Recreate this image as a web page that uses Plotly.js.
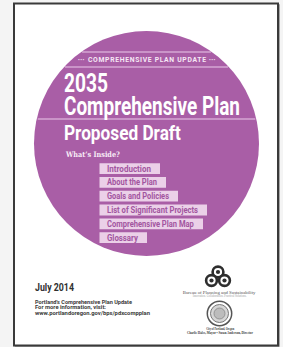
<!DOCTYPE html>
<html><head><meta charset="utf-8">
<script src="https://cdn.plot.ly/plotly-3.0.1.min.js"></script>
<style>html,body{margin:0;padding:0;background:#f4f4f4;}#c{width:283px;height:347px;}</style>
</head><body><div id="c"></div>
<script>
// ---- content ----
var seriesLabel = "COMPREHENSIVE PLAN UPDATE";
var titleYear = "2035";
var titleMain = "Comprehensive Plan";
var subtitle = "Proposed Draft";
var insideLabel = "What\u2019s Inside?";
var menuItems = ["Introduction", "About the Plan", "Goals and Policies", "List of Significant Projects", "Comprehensive Plan Map", "Glossary"];
var dateLabel = "July 2014";
var infoLines = ["Portland\u2019s Comprehensive Plan Update", "For more information, visit:", "www.portlandoregon.gov/bps/pdxcompplan"];
var bureauLines = ["Bureau of Planning and Sustainability", "Innovation. Collaboration. Practical Solutions."];
var cityLines = ["City of Portland, Oregon", "Charlie Hales, Mayor \u2022 Susan Anderson, Director"];

// ---- styling / layout (pixel geometry of the cover) ----
var W = 283, H = 347;
var purple = "#a95ea6", pale = "#ebd0e8", chordCol = "#d6a7d3", menuText = "#a2559f";
var cx = 146.5, cy = 143.5, R = 112.5;
var sans = "Roboto, 'Liberation Sans', sans-serif";
var serif = "'Liberation Serif', 'DejaVu Serif', serif";
var menuFit = [44, 50, 62, 91, 87, 31];   // rendered text widths of the menu labels
var infoFit = [97, 71, 115];

var shapes = [];
shapes.push({type:"rect", x0:15, x1:279.5, y0:4.5, y1:346.5, line:{color:"#a8a8a8", width:1}, fillcolor:"rgba(0,0,0,0)"});
shapes.push({type:"rect", x0:14, x1:278, y0:3.5, y1:345.5, line:{color:"#3a3a3a", width:2}, fillcolor:"#ffffff"});
shapes.push({type:"circle", x0:cx-R, x1:cx+R, y0:cy-R, y1:cy+R, line:{width:0}, fillcolor:purple});
[52, 67, 119].forEach(function(yy){
  var h = Math.sqrt(R*R - (cy-yy)*(cy-yy));
  shapes.push({type:"line", x0:cx-h+1, x1:cx+h-1, y0:yy, y1:yy, line:{color:chordCol, width:1.3}});
});
menuItems.forEach(function(m, i){
  var yc = 168.6 + i*13.8;
  shapes.push({type:"rect", x0:99.5, x1:99.5 + menuFit[i] + 16.5, y0:yc-5.4, y1:yc+5.4, line:{width:0}, fillcolor:pale});
});
// BPS logo
var rings = [[218,272],[211.5,280.5],[224.5,280.5]];
rings.forEach(function(p){
  shapes.push({type:"circle", x0:p[0]-5.4, x1:p[0]+5.4, y0:p[1]-5.4, y1:p[1]+5.4, line:{color:"#2e2e2e", width:2.6}, fillcolor:"#ffffff"});
});
rings.forEach(function(p){
  shapes.push({type:"circle", x0:p[0]-2.1, x1:p[0]+2.1, y0:p[1]-2.1, y1:p[1]+2.1, line:{width:0}, fillcolor:"#2e2e2e"});
});
// city seal
shapes.push({type:"circle", x0:207.3, x1:231.7, y0:301.3, y1:325.7, line:{color:"#555", width:1.5}, fillcolor:"#ffffff"});
shapes.push({type:"circle", x0:210.5, x1:228.5, y0:304.5, y1:322.5, line:{color:"#777", width:1}, fillcolor:"#d6d6d6"});
shapes.push({type:"circle", x0:214, x1:225, y0:308, y1:319, line:{color:"#888", width:0.8}, fillcolor:"#bcbcbc"});
shapes.forEach(function(s){ s.xref = "x"; s.yref = "y"; });

var ann = [], fits = [];
function T(x, y, text, size, color, family, weight, fit, opts){
  var a = {xref:"x", yref:"y", x:x, y:y, text:text, showarrow:false, xanchor:"left", yanchor:"middle", align:"left",
           borderpad:0, font:{size:size, color:color, family:family, weight:weight}};
  for (var k in (opts||{})) a[k] = opts[k];
  ann.push(a); fits.push(fit || null);
}
var ctr = {xanchor:"center", align:"center"};
T(81, 60, "\u00b7\u00b7\u00b7", 7, "#f3e2f2", sans, 700, {w:7}, ctr);
T(87, 60, seriesLabel, 6.8, "#f6e8f5", sans, 700, {w:118, spacing:true});
T(212, 60, "\u00b7\u00b7\u00b7", 7, "#f3e2f2", sans, 700, {w:7}, ctr);
T(63, 83, titleYear, 26, "#ffffff", sans, 700, {w:44});
T(63, 106.5, titleMain, 25, "#ffffff", sans, 700, {w:176});
T(63, 133, subtitle, 20, "#ffffff", sans, 700, {w:117});
T(64, 154.3, insideLabel, 7.5, "#f8ecf7", "'DejaVu Serif', 'Liberation Serif', serif", 700, {w:54});
menuItems.forEach(function(m, i){
  T(106, 168.6 + i*13.8, m, 8.7, menuText, sans, 700, {w:menuFit[i]});
});
T(33.5, 287, dateLabel, 11.5, "#2f2f2f", sans, 700, {w:39});
infoLines.forEach(function(l, i){
  T(34, 301.5 + i*5.8, l, 5.4, "#3a3a3a", sans, 700, {w:infoFit[i]});
});
T(219.5, 292.3, bureauLines[0], 5, "#555", serif, 400, {w:73}, ctr);
T(219.5, 295.9, bureauLines[1], 3.2, "#a0a0a0", serif, 400, {w:54}, ctr);
T(219.5, 329, cityLines[0], 3.6, "#3a3a3a", serif, 700, {w:28}, ctr);
T(219.5, 332.6, cityLines[1], 3.6, "#3a3a3a", serif, 700, {w:66}, ctr);

var layout = {
  width: W, height: H, margin:{l:0, r:0, t:0, b:0, pad:0},
  paper_bgcolor:"#f4f4f4", plot_bgcolor:"#f4f4f4",
  xaxis:{range:[0, W], visible:false, fixedrange:true},
  yaxis:{range:[H, 0], visible:false, fixedrange:true},
  showlegend:false, shapes:shapes, annotations:ann
};
Plotly.newPlot("c", [], layout, {staticPlot:true, displayModeBar:false}).then(function(gd){
  gd.querySelectorAll(".annotation").forEach(function(g){
    var f = fits[+g.getAttribute("data-index")];
    if (!f) return;
    var t = g.querySelector("text.annotation-text");
    if (!t) return;
    if (f.spacing) {
      t.setAttribute("textLength", f.w);
      t.setAttribute("lengthAdjust", "spacing");
      return;
    }
    var nat = t.getComputedTextLength();
    if (!nat) return;
    var sx = f.w / nat;
    var x0 = parseFloat(t.getAttribute("x")) || 0;
    t.setAttribute("transform", "translate(" + x0 + ",0) scale(" + sx + ",1) translate(" + (-x0) + ",0)");
  });
});
</script></body></html>
